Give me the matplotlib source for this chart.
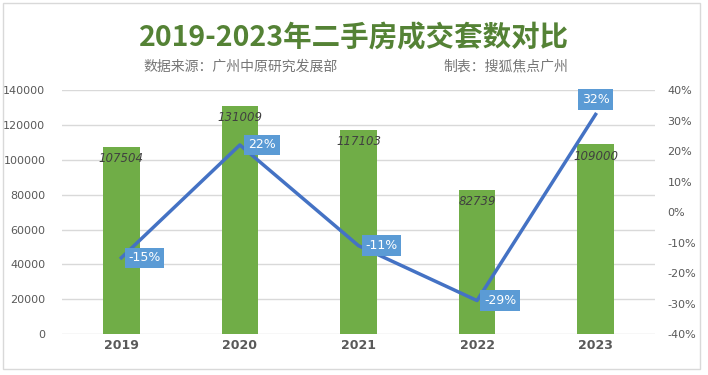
import matplotlib.pyplot as plt
from matplotlib.patches import Rectangle
from matplotlib.ticker import FuncFormatter

plt.rcParams['font.family'] = ['Noto Sans CJK SC', 'DejaVu Sans']

years = ['2019', '2020', '2021', '2022', '2023']
deals = [107504, 131009, 117103, 82739, 109000]
growth = [-0.15, 0.22, -0.11, -0.29, 0.32]

fig = plt.figure(figsize=(7.08, 3.75), dpi=100)
fig.patches.append(Rectangle((0.004, 0.017), 0.984, 0.975, transform=fig.transFigure,
                             fill=False, edgecolor='#D9D9D9', linewidth=1))

ax = fig.add_axes([0.0876, 0.109, 0.8374, 0.651])
x = list(range(len(years)))
ax.bar(x, deals, width=0.31, color='#70AD47', zorder=2)
ax.set_xlim(-0.5, len(years) - 0.5)
ax.set_ylim(0, 140000)
ax.set_yticks(range(0, 140001, 20000))
ax.grid(axis='y', color='#D9D9D9', linewidth=1, zorder=0)
for s in ax.spines.values():
    s.set_visible(False)
ax.tick_params(length=0)
ax.tick_params(axis='y', labelsize=8, labelcolor='#595959', pad=12)
ax.set_xticks(x)
ax.set_xticklabels(years, fontsize=9, fontweight='bold', color='#595959', family='DejaVu Sans')
for lab in ax.get_yticklabels():
    lab.set_family('DejaVu Sans')

for xi, v in zip(x, deals):
    ax.annotate(str(v), (xi, v), xytext=(0, -4), textcoords='offset points',
                ha='center', va='top', fontsize=8.5, style='italic',
                color='#404040', family='DejaVu Sans')

ax2 = ax.twinx()
ax2.plot(x, growth, color='#4472C4', linewidth=2.5, zorder=3)
ax2.set_ylim(-0.4, 0.4)
ax2.set_yticks([i / 10 for i in range(-4, 5)])
ax2.yaxis.set_major_formatter(FuncFormatter(lambda v, p: f'{v * 100:.0f}%'))
for s in ax2.spines.values():
    s.set_visible(False)
ax2.tick_params(length=0, labelsize=8, labelcolor='#595959', pad=9)
for lab in ax2.get_yticklabels():
    lab.set_family('DejaVu Sans')

offsets = [(5, 0, 'left', 'center'), (6, 0, 'left', 'center'), (5, 0, 'left', 'center'),
           (5, 0, 'left', 'center'), (0, 6, 'center', 'bottom')]
for xi, g, (dx, dy, ha, va) in zip(x, growth, offsets):
    ax2.annotate(f'{g * 100:.0f}%', (xi, g), xytext=(dx, dy), textcoords='offset points',
                 ha=ha, va=va, fontsize=9, color='white', family='DejaVu Sans',
                 bbox=dict(boxstyle='square,pad=0.3', fc='#5B9BD5', ec='none'), zorder=5)

fig.text(0.5, 0.897, '2019-2023年二手房成交套数对比', ha='center', va='center',
         fontsize=20.5, fontweight='black', color='#548235')
fig.text(0.203, 0.822, '数据来源：广州中原研究发展部', ha='left', va='center',
         fontsize=10, color='#767676')
fig.text(0.626, 0.822, '制表：搜狐焦点广州', ha='left', va='center',
         fontsize=10, color='#767676')

fig.savefig('out.png', dpi=100)
